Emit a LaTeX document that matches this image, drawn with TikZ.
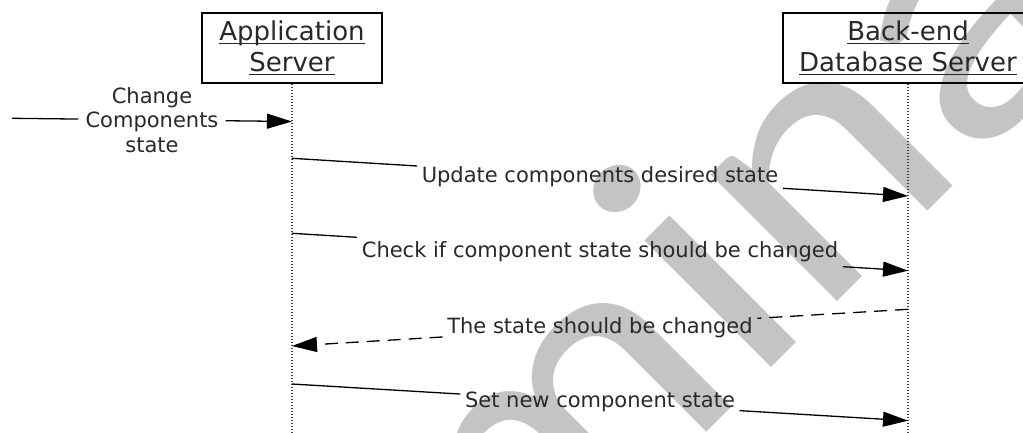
\documentclass[tikz,border=0pt]{standalone}
\usepackage{fontspec}
\setmainfont{DejaVu Sans}
\newfontfamily\wmfont{Carlito}
\usetikzlibrary{arrows.meta,calc,positioning}
\newcommand{\ulbox}[1]{\setbox0\hbox{#1}\rlap{\rule[-4pt]{\wd0}{1.4pt}}\box0}
\definecolor{wmgray}{RGB}{196,196,196}
\definecolor{ink}{RGB}{40,40,40}

\begin{document}
\begin{tikzpicture}[x=1pt, y=-1pt,
		LifeBox/.style={draw, line width=1.4pt, minimum width=180pt, minimum height=70pt, align=center, inner sep=0pt, font=\fontsize{26}{31}\selectfont, text=ink},
		LifeLine/.style={line width=1.4pt, dash pattern=on 1.4pt off 1.6pt, black!75},
		MsgLabel/.style={inner sep=4.5pt, font=\fontsize{21}{24.5}\selectfont, text=ink},
		Msg/.style={line width=1.3pt, -{Triangle[length=25pt,width=15pt]}},
		Watermark/.style={rotate=45, xscale=1.1, anchor=base, inner sep=0pt, text=wmgray, font=\wmfont\fontsize{375}{375}\selectfont}]
		\useasboundingbox (0,0) rectangle (1023,433);
		\clip (0,0) rectangle (1023,433);
		\node[Watermark] (wm) at (667.7,471.7) {Preliminary};
		\coordinate (bot) at (0,433);
		\node[LifeBox] (app) at (292,48) {\ulbox{Application}\\\ulbox{Server}};
		\node[LifeBox, minimum width=250pt] (db) at (908,48) {\ulbox{Back-end}\\\ulbox{Database Server}};
		\draw[LifeLine] (app.south) -- (app.south |- bot);
		\draw[LifeLine] (db.south) -- (db.south |- bot);
		\coordinate (in) at (12,118.3);
		\coordinate (app-0) at (292,121.5);
		\coordinate (app-1) at (292,158.3);
		\coordinate (db-1) at (908,196);
		\coordinate (app-2) at (292,233.3);
		\coordinate (db-2) at (908,270.7);
		\coordinate (db-3) at (908,309.3);
		\coordinate (app-3) at (292,346);
		\coordinate (app-4) at (292,384);
		\coordinate (db-4) at (908,420.7);
		\node[MsgLabel, align=center, inner xsep=7pt] (chg) at ($(in)!0.5!(app-0)$) {Change\\Components\\state};
		\node[MsgLabel] (upd) at ($(app-1)!0.5!(db-1)$) {Update components desired state};
		\node[MsgLabel] (chk) at ($(app-2)!0.5!(db-2)$) {Check if component state should be changed};
		\node[MsgLabel] (ret) at ($(db-3)!0.5!(app-3)$) {The state should be changed};
		\node[MsgLabel] (set) at ($(app-4)!0.5!(db-4)$) {Set new component state};
		\draw[Msg] (in) -- (chg) -- (app-0);
		\draw[Msg] (app-1) -- (upd) -- (db-1);
		\draw[Msg] (app-2) -- (chk) -- (db-2);
		\draw[Msg, dash pattern=on 13pt off 8pt] (db-3) -- (ret) -- (app-3);
		\draw[Msg] (app-4) -- (set) -- (db-4);
	\end{tikzpicture}
\end{document}
